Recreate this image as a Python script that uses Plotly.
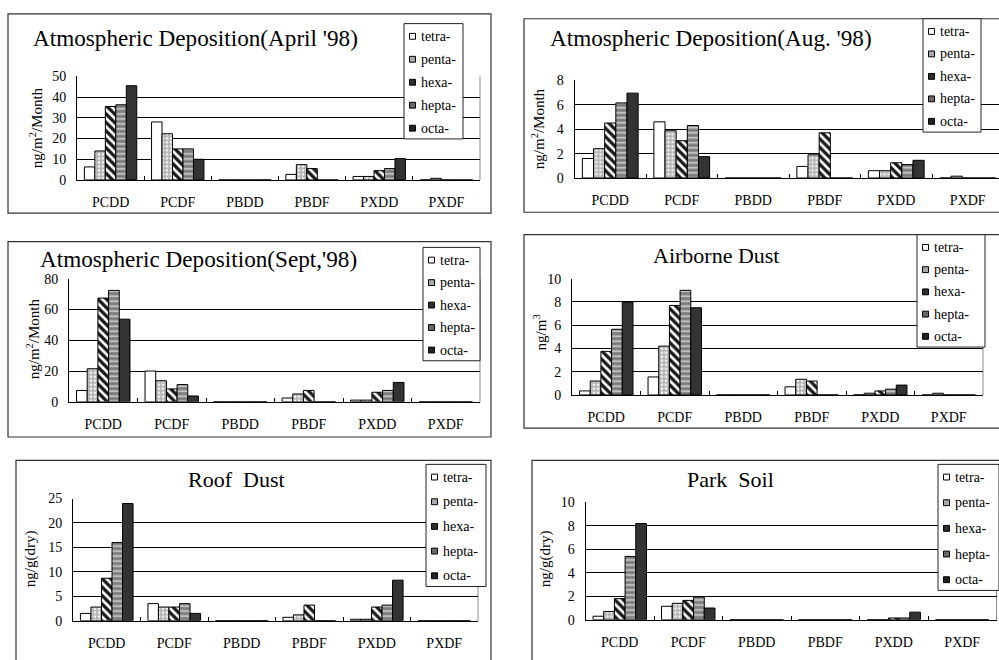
import plotly.graph_objects as go

categories = ["PCDD", "PCDF", "PBDD", "PBDF", "PXDD", "PXDF"]
series = ["tetra-", "penta-", "hexa-", "hepta-", "octa-"]

# values per series (rows: tetra, penta, hexa, hepta, octa; columns: categories)
apr98 = [
    [6.3, 28.0, 0, 2.7, 1.7, 0],
    [14.0, 22.3, 0, 7.4, 1.7, 0.8],
    [35.5, 15.0, 0, 5.5, 4.5, 0],
    [36.3, 15.0, 0, 0, 5.5, 0],
    [45.5, 10.0, 0, 0, 10.3, 0],
]
aug98 = [
    [1.6, 4.6, 0, 0.95, 0.6, 0],
    [2.4, 3.87, 0, 1.9, 0.6, 0.15],
    [4.5, 3.05, 0, 3.7, 1.25, 0],
    [6.15, 4.3, 0, 0, 1.1, 0],
    [6.95, 1.75, 0, 0, 1.45, 0],
]
sept98 = [
    [7.4, 20.0, 0, 2.5, 1.1, 0],
    [21.5, 13.7, 0, 5.1, 1.1, 0],
    [67.4, 8.4, 0, 7.4, 6.2, 0],
    [72.4, 11.2, 0, 0, 7.4, 0],
    [53.7, 3.8, 0, 0, 12.6, 0],
]
airborne = [
    [0.35, 1.55, 0, 0.7, 0, 0],
    [1.2, 4.2, 0, 1.35, 0.15, 0.15],
    [3.75, 7.7, 0, 1.2, 0.35, 0],
    [5.65, 9.0, 0, 0, 0.5, 0],
    [8.0, 7.5, 0, 0, 0.85, 0],
]
roof = [
    [1.5, 3.5, 0, 0.7, 0.3, 0],
    [2.8, 2.8, 0, 1.2, 0.3, 0],
    [8.7, 2.8, 0, 3.2, 2.8, 0],
    [16.0, 3.5, 0, 0, 3.2, 0],
    [24.0, 1.5, 0, 0, 8.3, 0],
]
park = [
    [0.3, 1.15, 0, 0, 0, 0],
    [0.7, 1.4, 0, 0, 0, 0],
    [1.8, 1.65, 0, 0, 0.15, 0],
    [5.4, 1.95, 0, 0, 0.15, 0],
    [8.2, 1.0, 0, 0, 0.65, 0],
]

titles = [
    "Atmospheric Deposition(April '98)",
    "Atmospheric Deposition(Aug. '98)",
    "Atmospheric Deposition(Sept,'98)",
    "Airborne Dust",
    "Roof  Dust",
    "Park  Soil",
]
ytitles = [
    "ng/m<sup>2</sup>/Month",
    "ng/m<sup>2</sup>/Month",
    "ng/m<sup>2</sup>/Month",
    "ng/m<sup>3</sup>",
    "ng/g(dry)",
    "ng/g(dry)",
]
ymax = [50, 8, 80, 10, 25, 10]
ydtick = [10, 2, 20, 2, 5, 2]
panels = [apr98, aug98, sept98, airborne, roof, park]

W, H = 999, 660
FONT = "Liberation Serif"


def px(x):
    return x / W


def py(y):
    return 1 - y / H


# layout geometry in pixels
plot_boxes = [  # x0, x1, ytop, ybottom
    (77, 480, 71, 177),
    (574.5, 1003.5, 75, 175),
    (69, 480, 278, 404),
    (572, 983, 278, 397),
    (73, 478, 503, 628),
    (585.5, 996.5, 507, 627),
]
frames = [
    (8, 491, 7, 211),
    (524, 1010, 12, 210),
    (8, 491, 240, 440),
    (524, 1010, 233, 431),
    (16, 491, 464, 690),
    (532, 1010, 464, 690),
]
title_pos = [(195, 32), (711, 32), (198, 258), (716, 254), (236, 484), (730, 484)]
title_size = [23.2, 23.2, 23.2, 22, 22, 22]
ytitle_pos = [(36, 124), (538, 125), (33, 340), (540, 333), (30, 565), (545, 565)]
legend_boxes = [  # x0, x1, ytop, ybottom
    (404, 463, 17, 135),
    (923, 981, 12, 128),
    (423, 480, 246, 362),
    (917, 985, 233, 348),
    (426, 486, 468, 593),
    (938, 999, 468, 597),
]

styles = [
    dict(color="white", line=dict(color="black", width=1)),
    dict(color="#bdbdbd", line=dict(color="black", width=1),
         pattern=dict(shape=".", fgcolor="#f4f4f4", bgcolor="#b4b4b4", size=4, solidity=0.35, fillmode="replace")),
    dict(color="#555555", line=dict(color="black", width=1),
         pattern=dict(shape="\\", fgcolor="#1a1a1a", bgcolor="white", size=6, solidity=0.55, fillmode="replace")),
    dict(color="#808080", line=dict(color="black", width=1),
         pattern=dict(shape="-", fgcolor="#d8d8d8", bgcolor="#7c7c7c", size=5, solidity=0.3, fillmode="replace")),
    dict(color="#333333", line=dict(color="black", width=1)),
]
swatch_fill = ["white", "#a8a8a8", "#2e2e2e", "#686868", "#222222"]

fig = go.Figure()
layout = dict(
    width=W, height=H, margin=dict(l=0, r=0, t=0, b=0),
    paper_bgcolor="white", plot_bgcolor="white",
    bargap=0.22, bargroupgap=0, barmode="group", showlegend=False,
    font=dict(family=FONT, color="black", size=14),
    shapes=[], annotations=[],
)

for i, data in enumerate(panels):
    n = i + 1
    xa = "x" if n == 1 else f"x{n}"
    ya = "y" if n == 1 else f"y{n}"
    x0, x1, yt, yb = plot_boxes[i]
    spacing = (x1 - x0) / 6
    xr1 = min(x1, W)
    xrange = [-0.5, -0.5 + (xr1 - x0) / spacing]

    for s, name in enumerate(series):
        fig.add_trace(go.Bar(
            x=categories, y=data[s], name=name,
            marker=styles[s], xaxis=xa, yaxis=ya, showlegend=False,
            hoverinfo="x+y+name",
        ))

    xkey = "xaxis" if n == 1 else f"xaxis{n}"
    ykey = "yaxis" if n == 1 else f"yaxis{n}"
    layout[xkey] = dict(
        domain=[px(x0), px(xr1)], anchor=ya, type="category",
        categoryorder="array", categoryarray=categories,
        range=xrange, showgrid=False, zeroline=False,
        showline=True, linecolor="black", linewidth=1,
        ticks="inside", tickson="boundaries", ticklen=4, tickcolor="black",
        tickfont=dict(family=FONT, size=14, color="black"),
        ticklabelstandoff=9, fixedrange=True,
    )
    layout[ykey] = dict(
        domain=[py(yb), py(yt)], anchor=xa, range=[0, ymax[i]],
        dtick=ydtick[i], tick0=0, showgrid=True, gridcolor="black", gridwidth=1,
        zeroline=False, showline=True, linecolor="black", linewidth=1,
        ticks="", tickfont=dict(family=FONT, size=14, color="black"),
        ticklabelstandoff=7, fixedrange=True,
    )
    # frame around the panel
    fx0, fx1, fy0, fy1 = frames[i]
    layout["shapes"].append(dict(
        type="rect", xref="paper", yref="paper",
        x0=px(fx0), x1=px(fx1), y0=py(fy1), y1=py(fy0),
        line=dict(color="#333333", width=1.2), fillcolor="rgba(0,0,0,0)", layer="above",
    ))
    # gray right border of plot area
    if x1 <= W:
        layout["shapes"].append(dict(
            type="line", xref=f"{xa} domain", yref=f"{ya} domain",
            x0=1, x1=1, y0=0, y1=1, line=dict(color="#8c8c8c", width=1), layer="below",
        ))
    tx, ty = title_pos[i]
    layout["annotations"].append(dict(
        text=titles[i], xref="paper", yref="paper", x=px(tx), y=py(ty),
        xanchor="center", yanchor="middle", showarrow=False,
        font=dict(family=FONT, size=title_size[i], color="black"),
    ))
    yx, yy = ytitle_pos[i]
    layout["annotations"].append(dict(
        text=ytitles[i], xref="paper", yref="paper", x=px(yx), y=py(yy),
        xanchor="center", yanchor="middle", showarrow=False, textangle=-90,
        font=dict(family=FONT, size=15, color="black"),
    ))
    # legend box
    lx0, lx1, ly0, ly1 = legend_boxes[i]
    layout["shapes"].append(dict(
        type="rect", xref="paper", yref="paper",
        x0=px(lx0), x1=px(lx1), y0=py(ly1), y1=py(ly0),
        line=dict(color="#222222", width=1), fillcolor="white", layer="above",
    ))
    first = ly0 + 13
    last = ly1 - 11
    step = (last - first) / (len(series) - 1)
    for s, name in enumerate(series):
        cy = first + s * step
        cx = lx0 + 8.5
        layout["shapes"].append(dict(
            type="rect", xref="paper", yref="paper",
            x0=px(cx - 3), x1=px(cx + 3), y0=py(cy + 3), y1=py(cy - 3),
            line=dict(color="black", width=1), fillcolor=swatch_fill[s], layer="above",
        ))
        layout["annotations"].append(dict(
            text=name, xref="paper", yref="paper", x=px(lx0 + 15), y=py(cy),
            xanchor="left", yanchor="middle", showarrow=False,
            font=dict(family=FONT, size=14, color="black"),
        ))

fig.update_layout(**layout)
fig.write_html(
    "out.html",
    config={"displayModeBar": False},
    post_script="document.body.style.margin='0';document.body.style.overflow='hidden';",
)
